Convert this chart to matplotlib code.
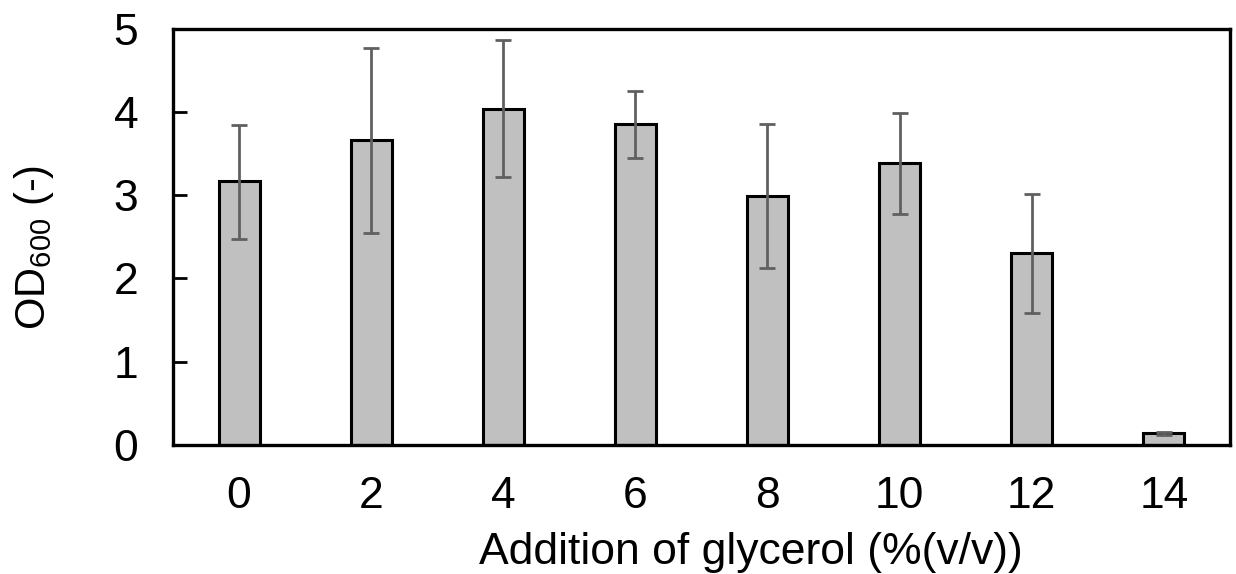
import matplotlib
matplotlib.use("Agg")
import matplotlib.pyplot as plt
import numpy as np

categories = ["0", "2", "4", "6", "8", "10", "12", "14"]
od600 = [3.17, 3.66, 4.03, 3.85, 2.99, 3.39, 2.31, 0.14]
err_upper = [3.84, 4.77, 4.86, 4.25, 3.85, 3.99, 3.02, 0.16]
err_lower = [2.48, 2.55, 3.22, 3.45, 2.13, 2.78, 1.59, 0.12]

plt.rcParams['font.family'] = ['Liberation Sans', 'DejaVu Sans']
plt.rcParams['mathtext.fontset'] = 'custom'
plt.rcParams['mathtext.rm'] = 'Liberation Sans'
plt.rcParams['mathtext.it'] = 'Liberation Sans'

fig = plt.figure(figsize=(12.36, 5.74), dpi=100)
ax = fig.add_axes([0.140, 0.2247, 0.855, 0.7253])

x = np.arange(len(categories))
vals = np.array(od600)
yerr = np.array([vals - np.array(err_lower), np.array(err_upper) - vals])
ax.bar(x, vals, width=0.31, color='#c0c0c0', edgecolor='black', linewidth=2.2, zorder=2)
ax.errorbar(x, vals, yerr=yerr, fmt='none', ecolor='#606060', elinewidth=2.0,
            capsize=6, capthick=2.0, zorder=3)

ax.set_xlim(-0.5, len(categories) - 0.5)
ax.set_ylim(0, 5)
ax.set_yticks([0, 1, 2, 3, 4, 5])
ax.set_xticks(x)
ax.set_xticklabels(categories)
ax.tick_params(axis='y', direction='in', length=10, width=2, labelsize=32, pad=25)
ax.tick_params(axis='x', length=0, labelsize=32, pad=22)
for s in ax.spines.values():
    s.set_linewidth(2.4)

ax.set_xlabel('Addition of glycerol (%(v/v))', fontsize=32, labelpad=10)
ax.xaxis.set_label_coords(0.547, -0.21)
ax.xaxis.label.set_verticalalignment('top')
ax.set_ylabel(r'OD$_{600}$ (-)', fontsize=30, labelpad=36)
ax.yaxis.set_label_coords(-0.111, 0.475)

fig.savefig('out.png', dpi=100)
